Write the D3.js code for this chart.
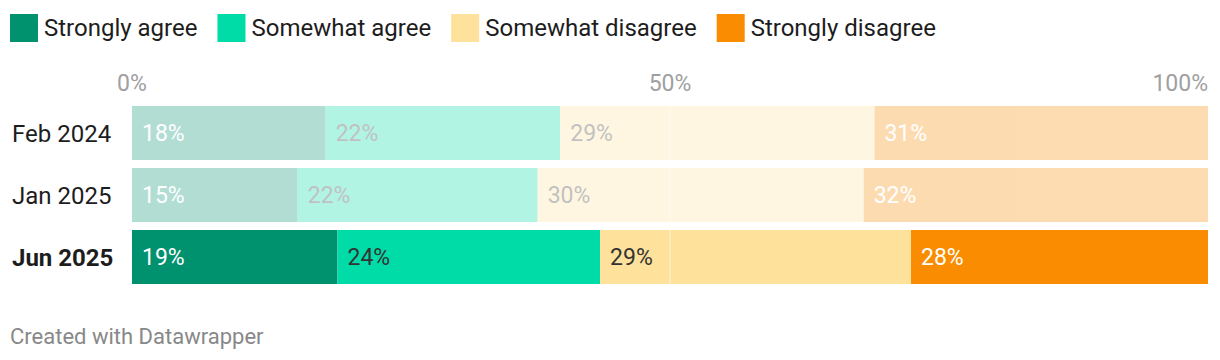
<!DOCTYPE html>
<html><head><meta charset="utf-8">
<script src="https://cdn.jsdelivr.net/npm/d3@7"></script>
<style>
html,body{margin:0;padding:0;background:#fff;}
svg{display:block;font-family:Roboto,"Noto Sans",sans-serif;}
</style></head>
<body><svg id="chart" width="1220" height="360"></svg>
<script>
const categories = ["Feb 2024", "Jan 2025", "Jun 2025"];
const seriesNames = ["Strongly agree", "Somewhat agree", "Somewhat disagree", "Strongly disagree"];
const stronglyAgree    = [18.0, 15.4, 19.1];
const somewhatAgree    = [21.8, 22.3, 24.4];
const somewhatDisagree = [29.2, 30.3, 28.9];
const stronglyDisagree = [31.0, 32.0, 27.6];
const colors = ["#00916f", "#00dca8", "#fee29b", "#f98c00"];
const labelColors = ["#ffffff", "#333333", "#333333", "#ffffff"];
const highlighted = [false, false, true];
const axisTicks = [0, 50, 100];

const svg = d3.select("#chart");
const x = d3.scaleLinear().domain([0, 100]).range([132, 1208]);
const y = d3.scaleBand().domain(categories).range([106, 284]).paddingInner(8/62).paddingOuter(0);

const rows = categories.map((c, i) => ({cat: c, vals: [stronglyAgree[i], somewhatAgree[i], somewhatDisagree[i], stronglyDisagree[i]], hi: highlighted[i]}));
const stackData = categories.map((c, i) => ({cat: c, s0: stronglyAgree[i], s1: somewhatAgree[i], s2: somewhatDisagree[i], s3: stronglyDisagree[i]}));
const stack = d3.stack().keys(["s0","s1","s2","s3"])(stackData);

// legend
const legend = svg.append("g");
let lx = 10;
seriesNames.forEach((n, i) => {
  legend.append("rect").attr("x", lx).attr("y", 14).attr("width", 28).attr("height", 28).attr("fill", colors[i]);
  const t = legend.append("text").attr("x", lx + 34).attr("y", 36).attr("font-size", 24).attr("fill", "#1d1d1d").text(n);
  lx += 34 + t.node().getComputedTextLength() + 20;
});

// axis labels
svg.append("g").selectAll("text").data(axisTicks).join("text")
  .attr("x", d => x(d))
  .attr("y", 90.5)
  .attr("text-anchor", d => d === 0 ? "middle" : d === 100 ? "end" : "middle")
  .attr("font-size", 23)
  .attr("fill", "#a0a0a0")
  .text(d => d + "%");

// bars
const rowG = svg.append("g").selectAll("g.row").data(rows).join("g")
  .attr("class", "row")
  .attr("opacity", d => d.hi ? 1 : 0.3);

rowG.each(function(r, ri) {
  const g = d3.select(this);
  stack.forEach((layer, si) => {
    const seg = layer[ri];
    g.append("rect")
      .attr("x", x(seg[0]))
      .attr("y", y(r.cat))
      .attr("width", x(seg[1]) - x(seg[0]))
      .attr("height", y.bandwidth())
      .attr("fill", colors[si]);
  });
  stack.forEach((layer, si) => {
    const seg = layer[ri];
    g.append("text")
      .attr("x", x(seg[0]) + 10)
      .attr("y", y(r.cat) + y.bandwidth()/2 + 8)
      .attr("font-size", 23)
      .attr("fill", labelColors[si])
      .text(Math.round(r.vals[si]) + "%");
  });
});

// grid line at 50%
svg.append("g").selectAll("line").data(categories).join("line")
  .attr("x1", x(50)).attr("x2", x(50))
  .attr("y1", d => y(d)).attr("y2", d => y(d) + y.bandwidth())
  .attr("stroke", "#ffffff").attr("stroke-opacity", 0.6).attr("stroke-width", 1);

// row labels
svg.append("g").selectAll("text").data(rows).join("text")
  .attr("x", 12)
  .attr("y", d => y(d.cat) + y.bandwidth()/2 + 8.5)
  .attr("font-size", 24)
  .attr("font-weight", d => d.hi ? 700 : 400)
  .attr("fill", "#1d1d1d")
  .text(d => d.cat);

// footer
svg.append("text").attr("x", 10).attr("y", 344).attr("font-size", 22).attr("fill", "#888888").text("Created with Datawrapper");
</script>
</body></html>
